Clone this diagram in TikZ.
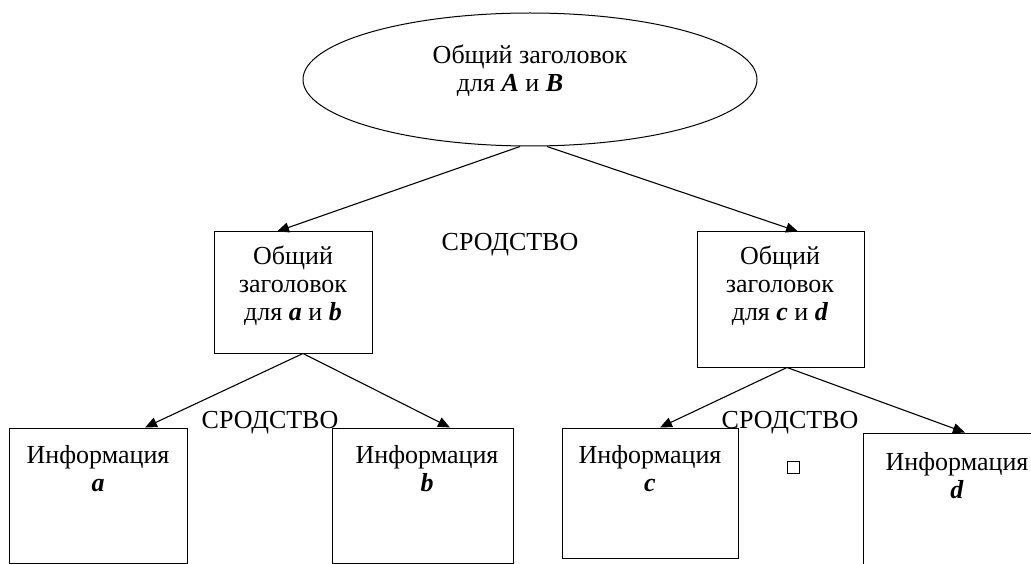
\documentclass[tikz,border=0pt]{standalone}
\usepackage{fontspec}
\setmainfont{Liberation Serif}
\usetikzlibrary{shapes.geometric,arrows.meta}
\tikzset{
  boxnode/.style={draw=black,line width=1pt,rectangle,inner sep=0pt},
  txt/.style={inner sep=0pt,align=center,font=\fontsize{26}{28}\selectfont},
  arr/.style={draw=black,line width=1.1pt,-{Triangle[length=12pt,width=10pt]}}
}
\newcommand{\bi}[1]{\textbf{\textit{#1}}}
\begin{document}
\begin{tikzpicture}[x=1pt,y=-1pt]
\useasboundingbox (0,0) rectangle (1031,564);
\clip (0,0) rectangle (1031,564);
\fill[white] (0,0) rectangle (1031,564);
% top ellipse
\node[draw=black,line width=1pt,ellipse,minimum width=454pt,minimum height=133pt,inner sep=0pt] (ell) at (530,79.5) {};
\node[txt,anchor=base] (tell1) at (530,64) {Общий заголовок};
\node[txt,anchor=base] (tell2) at (510,92) {для \bi{A} и \bi{B}};
% second level boxes
\node[boxnode,minimum width=158pt,minimum height=121pt] (boxab) at (293,292.5) {};
\node[txt] (tab) at (293,286) {Общий\\заголовок\\для \bi{a} и \bi{b}};
\node[boxnode,minimum width=167pt,minimum height=135pt] (boxcd) at (780.5,299.5) {};
\node[txt] (tcd) at (780,286) {Общий\\заголовок\\для \bi{c} и \bi{d}};
\node[txt] (s1) at (510,245) {СРОДСТВО};
% bottom boxes
\node[boxnode,minimum width=178pt,minimum height=135pt] (boxa) at (98,495.5) {};
\node[txt] (ta) at (98,469) {Информация\\\bi{a}};
\node[boxnode,minimum width=181pt,minimum height=135pt] (boxb) at (422.5,495.5) {};
\node[txt] (tb) at (427,469) {Информация\\\bi{b}};
\node[boxnode,minimum width=176pt,minimum height=130pt] (boxc) at (650,493) {};
\node[txt] (tc) at (650,469) {Информация\\\bi{c}};
\node[boxnode,minimum width=177pt,minimum height=142pt] (boxd) at (951.5,504) {};
\node[txt] (td) at (957,476) {Информация\\\bi{d}};
\node[txt] (s2) at (270,423) {СРОДСТВО};
\node[txt] (s3) at (790,423) {СРОДСТВО};
\node[draw=black,line width=0.8pt,minimum size=12pt,inner sep=0pt] (sq) at (793,467) {};
% connectors
\draw[arr] ([xshift=-10pt]ell.south) -- ([xshift=-16pt]boxab.north);
\draw[arr] ([xshift=17pt]ell.south) -- ([xshift=17.5pt]boxcd.north);
\draw[arr] ([xshift=10pt]boxab.south) -- ([xshift=47pt]boxa.north);
\draw[arr] ([xshift=10pt]boxab.south) -- ([xshift=27.5pt]boxb.north);
\draw[arr] ([xshift=6.5pt]boxcd.south) -- ([xshift=10pt]boxc.north);
\draw[arr] ([xshift=6.5pt]boxcd.south) -- ([xshift=13.5pt]boxd.north);
\end{tikzpicture}
\end{document}
